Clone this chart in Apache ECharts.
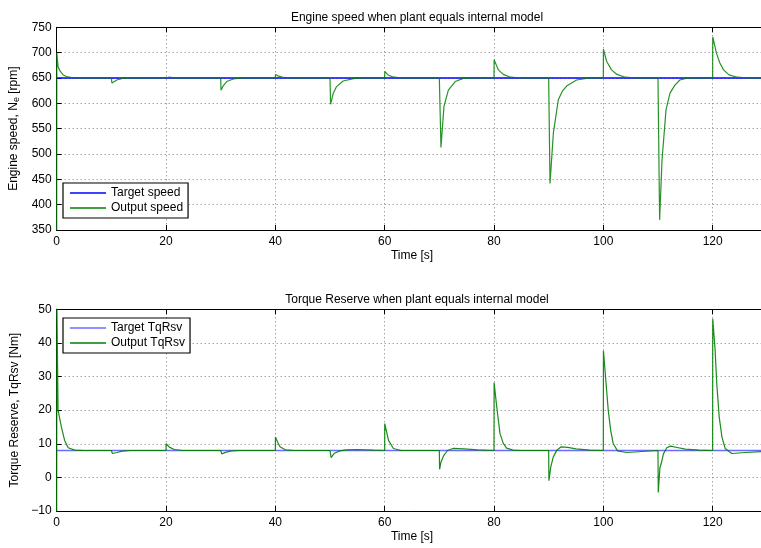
<!DOCTYPE html>
<html>
<head>
<meta charset="utf-8">
<script src="https://cdn.jsdelivr.net/npm/echarts@6/dist/echarts.min.js"></script>
<style>
  html, body { margin: 0; padding: 0; background: #fff; }
  #chart { width: 761px; height: 548px; }
</style>
</head>
<body>
<div id="chart"></div>
<script>
// Simulation run: step disturbances every 10 s, plant equal to the internal model.
const timeRange = [0, 130];
const timeTickStep = 20;

// Engine speed [rpm]
const speedTargetRpm = 650;
const speedTime = [
  0, 0.02, 0.25, 0.6, 1.2, 2.0, 3.0, 4.5,
  10, 10.1, 11, 12, 13.5,
  20, 20.02, 20.5, 21.5, 23,
  30, 30.06, 30.5, 31.1, 32.3, 34,
  40, 40.02, 40.6, 41.5, 43,
  50, 50.1, 50.6, 51.2, 52.4, 54.3, 56,
  60, 60.02, 60.6, 61.5, 63,
  70, 70.3, 70.85, 71.65, 72.9, 74.4, 76,
  80, 80.02, 80.8, 81.7, 83, 85,
  90, 90.25, 90.86, 91.77, 92.5, 93.3, 95.1, 97.5,
  100, 100.02, 100.6, 101.5, 102.5, 104, 106,
  110, 110.3, 110.74, 111.47, 112.2, 113.1, 114, 115.3, 117,
  120, 120.02, 120.7, 121.3, 122, 123, 124.5, 126.5, 130
];
const speedRpm = [
  350, 700, 672, 664, 656, 652, 650.5, 650,
  650, 640, 646, 649, 650,
  650, 653, 651.5, 650.3, 650,
  650, 626, 635, 643, 648, 650,
  650, 657, 653.5, 651, 650,
  650, 598, 620, 633, 644, 648.8, 650,
  650, 663, 656, 652, 650,
  650, 513, 594, 626, 643, 649.3, 650,
  650, 686, 666, 657, 651.5, 650,
  650, 442, 541, 607, 624, 634, 646, 650,
  650, 707, 683, 666, 657, 651.5, 650,
  650, 370, 488, 587, 620, 636, 646, 649.5, 650,
  650, 731, 699, 680, 666, 656, 651.5, 650, 650
];

// Torque reserve [Nm]
const tqTargetNm = 8;
const tqTime = [
  0, 0.03, 0.25, 0.85, 1.45, 2.1, 3.3, 5,
  10, 10.2, 11, 12, 13.5,
  20, 20.02, 20.6, 21.5, 23,
  30, 30.2, 31, 32, 33.5,
  40, 40.02, 40.4, 40.85, 41.8, 43.5,
  50, 50.2, 50.8, 51.8, 53, 55, 58,
  60, 60.02, 60.7, 61.6, 63,
  70, 70.05, 70.3, 70.8, 71.5, 72.5, 74.5, 77,
  80, 80.02, 80.5, 81.1, 81.7, 82.3, 83.5, 85,
  90, 90.05, 90.4, 90.85, 91.5, 92.3, 93.5, 95, 97.5,
  100, 100.02, 100.5, 100.9, 101.35, 101.8, 102.6, 104.3, 107,
  110, 110.05, 110.35, 110.6, 111, 111.6, 112.3, 113.5, 115, 117.5,
  120, 120.02, 120.45, 120.75, 121.2, 121.7, 122.3, 123.5, 126, 130
];
const tqNm = [
  -10, 52, 20, 15, 11, 8.8, 8.1, 8,
  8, 7.1, 7.4, 7.8, 8,
  8, 10, 9, 8.3, 8,
  8, 7, 7.5, 7.9, 8,
  8, 12, 10.5, 9.1, 8.2, 8,
  8, 5.9, 7.2, 7.9, 8.2, 8.3, 8.1,
  8, 16, 11, 8.6, 8,
  8, 2.4, 4.5, 6.5, 8, 8.6, 8.5, 8.2,
  8, 28.2, 21, 13, 10.1, 8.7, 8.1, 8,
  8, -1, 3.2, 6.1, 8.1, 9.1, 8.9, 8.5, 8.1,
  8, 37.7, 28, 20, 14, 10.1, 7.9, 7.4, 7.7,
  8, -4.5, 2.8, 4.2, 7, 8.8, 9.3, 8.9, 8.4, 8.1,
  8, 47.2, 38, 28, 18, 12, 8.6, 7.1, 7.4, 7.8
];

const pairs = (xs, ys) => xs.map((x, i) => [x, ys[i]]);
const constantLine = (v) => timeRange.map(t => [t, v]);

const FONT = "'Liberation Sans', Arial, Helvetica, sans-serif";
const gridLine = { show: true, lineStyle: { color: '#7a7a7a', type: [1, 3], width: 1 } };
const axisLine = { show: true, onZero: false, lineStyle: { color: '#000', width: 1 } };
const tickIn = { show: true, inside: true, length: 5, lineStyle: { color: '#000' } };
const labelStyle = { color: '#000', fontSize: 12, fontFamily: FONT };
const minusSign = v => String(v).replace('-', '\u2212');
// thin bar used as the legend line sample
const LINE_ICON = 'path://M0,0H36V1.6H0Z';

function timeAxis(gridIndex, position, withLabels) {
  return {
    type: 'value', gridIndex, position,
    min: timeRange[0], max: timeRange[1], interval: timeTickStep,
    axisLine, axisTick: tickIn,
    splitLine: withLabels ? gridLine : { show: false },
    axisLabel: withLabels ? Object.assign({
      margin: 6,
      formatter: v => (v % timeTickStep === 0 ? String(v) : '')
    }, labelStyle) : { show: false },
    name: withLabels ? 'Time [s]' : '',
    nameLocation: 'middle', nameGap: 20,
    nameTextStyle: labelStyle
  };
}

function legendBox(top, names) {
  return {
    orient: 'vertical', left: 63, top,
    data: names.map(n => ({ name: n, icon: LINE_ICON })),
    itemWidth: 36, itemHeight: 14, itemGap: 3,
    symbolKeepAspect: true,
    padding: [4, 5, 4, 7],
    borderColor: '#000', borderWidth: 1.2, backgroundColor: '#fff',
    textStyle: { color: '#000', fontSize: 12, fontFamily: FONT },
    selectedMode: false
  };
}

const chart = echarts.init(document.getElementById('chart'), null, { renderer: 'canvas' });
chart.setOption({
  animation: false,
  backgroundColor: '#fff',
  title: [
    { text: 'Engine speed when plant equals internal model', left: 412, top: 7, textAlign: 'center',
      textStyle: { fontSize: 12, fontWeight: 'normal', color: '#000', fontFamily: FONT } },
    { text: 'Torque Reserve when plant equals internal model', left: 412, top: 289, textAlign: 'center',
      textStyle: { fontSize: 12, fontWeight: 'normal', color: '#000', fontFamily: FONT } }
  ],
  legend: [
    legendBox(183, ['Target speed', 'Output speed']),
    legendBox(318, ['Target TqRsv', 'Output TqRsv'])
  ],
  grid: [
    { left: 56.7, top: 27.3, width: 710.6, height: 202.7, outerBoundsMode: 'none', containLabel: false },
    { left: 56.7, top: 309.3, width: 710.6, height: 201.7, outerBoundsMode: 'none', containLabel: false }
  ],
  xAxis: [
    timeAxis(0, 'bottom', true),
    timeAxis(0, 'top', false),
    timeAxis(1, 'bottom', true),
    timeAxis(1, 'top', false)
  ],
  yAxis: [
    {
      type: 'value', gridIndex: 0, min: 350, max: 750, interval: 50,
      axisLine, axisTick: tickIn, splitLine: gridLine,
      axisLabel: Object.assign({ margin: 5 }, labelStyle),
      name: 'Engine speed, N{sub|e} [rpm]', nameLocation: 'middle', nameGap: 31,
      nameTextStyle: Object.assign({
        lineHeight: 14,
        rich: { sub: { fontSize: 9, lineHeight: 9, verticalAlign: 'bottom', fontFamily: FONT, color: '#000' } }
      }, labelStyle)
    },
    {
      type: 'value', gridIndex: 1, min: -10, max: 50, interval: 10,
      axisLine, axisTick: tickIn, splitLine: gridLine,
      axisLabel: Object.assign({ margin: 5, formatter: minusSign }, labelStyle),
      name: 'Torque Reserve, TqRsv [Nm]', nameLocation: 'middle', nameGap: 23,
      nameTextStyle: labelStyle
    }
  ],
  series: [
    { name: 'Target speed', type: 'line', xAxisIndex: 0, yAxisIndex: 0, symbol: 'none', z: 2,
      lineStyle: { color: '#0000ff', width: 1.5 }, itemStyle: { color: '#0000ff' },
      data: constantLine(speedTargetRpm) },
    { name: 'Output speed', type: 'line', xAxisIndex: 0, yAxisIndex: 0, symbol: 'none', z: 3,
      lineStyle: { color: '#008000', width: 1.2, opacity: 0.85 }, itemStyle: { color: '#008000' },
      data: pairs(speedTime, speedRpm) },
    { name: 'Target TqRsv', type: 'line', xAxisIndex: 2, yAxisIndex: 1, symbol: 'none', z: 2,
      lineStyle: { color: '#6b6bff', width: 1.5 }, itemStyle: { color: '#6b6bff' },
      data: constantLine(tqTargetNm) },
    { name: 'Output TqRsv', type: 'line', xAxisIndex: 2, yAxisIndex: 1, symbol: 'none', z: 3,
      lineStyle: { color: '#008000', width: 1.2, opacity: 0.9 }, itemStyle: { color: '#008000' },
      data: pairs(tqTime, tqNm) }
  ]
});
</script>
</body>
</html>
